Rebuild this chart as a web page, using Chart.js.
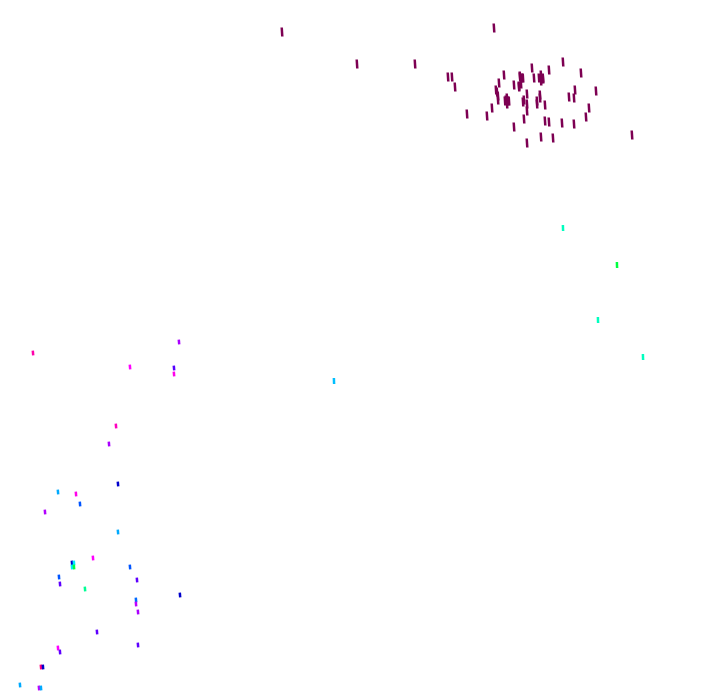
<!DOCTYPE html>
<html>
<head>
<meta charset="utf-8">
<script src="https://cdn.jsdelivr.net/npm/chart.js@4/dist/chart.umd.min.js"></script>
<style>
  html, body { margin: 0; padding: 0; background: #fff; }
  #wrap { width: 720px; height: 692px; }
</style>
</head>
<body>
<div id="wrap"><canvas id="chart" width="720" height="692"></canvas></div>
<script>
// main cluster (single colour)
const clusterX = [28.2, 49.4, 35.7, 41.5, 44.8, 45.2, 45.5, 46.7, 48.7, 49.2, 49.7, 49.8, 49.9, 50.4, 50.6, 50.8, 51.4, 51.4, 51.9, 52.0, 52.2, 52.3, 52.4, 52.7, 52.7, 52.7, 53.2, 53.4, 53.7, 54.0, 54.1, 54.3, 54.1, 54.5, 54.5, 54.9, 54.9, 55.3, 56.2, 56.3, 56.9, 57.4, 57.5, 57.4, 58.1, 58.6, 58.9, 59.6, 63.2,
  50.5, 50.9, 50.7, 50.7, 53.9, 54.3, 54.1, 54.1, 52.0, 52.3, 52.1, 51.9, 49.6, 49.8, 52.4, 52.7, 53.7, 54.0];
const clusterY = [66.0, 66.4, 62.8, 62.8, 61.5, 61.5, 60.5, 57.8, 57.6, 58.4, 60.0, 59.2, 60.9, 61.7, 59.2, 59.1, 60.7, 56.5, 60.5, 61.5, 61.4, 59.0, 57.3, 59.8, 58.1, 54.9, 62.4, 61.4, 58.8, 59.7, 61.3, 61.3, 55.5, 58.7, 57.1, 57.0, 62.2, 55.4, 56.9, 63.0, 59.5, 59.4, 60.2, 56.8, 61.9, 57.5, 58.4, 60.1, 55.7,
  59.1, 59.1, 59.4, 58.8, 61.4, 61.4, 61.7, 61.1, 61.6, 61.4, 60.8, 60.6, 60.2, 59.6, 59.2, 58.8, 59.1, 59.4];

// right group, hue = third variable
const rightX = [56.3, 61.7, 59.8, 64.3, 33.4];
const rightY = [46.4, 42.7, 37.2, 33.5, 31.1];
const rightHue = [165, 135, 165, 165, 195];

// lower-left group
const lowX = [3.3, 17.9, 13.0, 17.4, 17.4, 11.6, 10.9, 11.8, 5.8, 7.6, 8.0, 4.5, 11.8, 9.3, 7.2, 7.4, 7.2, 7.4, 13.0, 5.9, 6.0, 8.5, 13.7, 18.0, 13.6, 13.6, 13.8, 9.7, 13.8, 5.8, 6.0, 4.1, 4.3, 2.0, 3.9, 4.1];
const lowY = [33.9, 35.0, 32.5, 32.4, 31.8, 26.6, 24.8, 20.8, 20.0, 19.8, 18.8, 18.0, 16.0, 13.4, 12.9, 12.9, 12.5, 12.5, 12.5, 11.5, 10.8, 10.3, 11.2, 9.7, 9.2, 8.8, 8.0, 6.0, 4.7, 4.4, 4.0, 2.5, 2.5, 0.7, 0.4, 0.4];
const lowHue = [320, 280, 300, 260, 305, 315, 280, 240, 200, 305, 220, 282, 200, 300, 240, 185, 185, 135, 220, 220, 262, 155, 262, 240, 215, 285, 280, 262, 262, 300, 262, 330, 240, 200, 285, 200];

function pts(xs, ys) {
  return xs.map((x, i) => ({ x: x, y: ys[i] }));
}
function hueColor(h) {
  const l = (h >= 230 && h <= 250) ? 40 : 50;
  return 'hsl(' + h + ', 100%, ' + l + '%)';
}

new Chart(document.getElementById('chart'), {
  type: 'scatter',
  data: {
    datasets: [
      {
        data: pts(clusterX, clusterY),
        pointStyle: 'line',
        rotation: 86,
        radius: 4.5,
        borderWidth: 2.5,
        borderColor: '#7d0052',
        backgroundColor: '#7d0052'
      },
      {
        data: pts(rightX, rightY),
        pointStyle: 'line',
        rotation: 88,
        radius: 3,
        borderWidth: 2.5,
        borderColor: rightHue.map(hueColor),
        backgroundColor: rightHue.map(hueColor)
      },
      {
        data: pts(lowX, lowY),
        pointStyle: 'line',
        rotation: 85,
        radius: 2.4,
        borderWidth: 2.5,
        borderColor: lowHue.map(hueColor),
        backgroundColor: lowHue.map(hueColor)
      }
    ]
  },
  options: {
    responsive: false,
    animation: false,
    layout: { padding: 0, autoPadding: false },
    plugins: { legend: { display: false }, tooltip: { enabled: false } },
    scales: {
      x: { display: false, min: 0, max: 72 },
      y: { display: false, min: 0, max: 69.2 }
    }
  }
});
</script>
</body>
</html>
